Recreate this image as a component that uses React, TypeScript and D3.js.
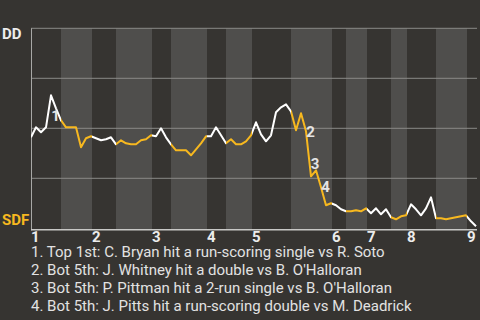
import React from "react";
import * as d3 from "d3";

// DD win probability (%) per plate appearance, index 0..89
const winProb: number[] = [
  45.5, 50.5, 48, 50.5, 66.5, 60, 54, 50.5, 50.5, 50.5,
  40.5, 45, 46, 45, 44, 44.5, 45.5, 42, 44, 42.5,
  42, 42, 44, 44.5, 46.5, 46, 50, 45.5, 42, 39,
  39, 39, 36.5, 39.5, 42.5, 46, 46, 50.5, 46.5, 42.5,
  44.5, 42, 42, 43.5, 46.5, 53, 47, 43.5, 46.5, 58,
  60.5, 62, 58.5, 49, 57.5, 48.5, 26, 29, 20.5, 11.5,
  12.5, 11.5, 9.5, 8.5, 8.5, 9, 8.5, 10, 7.5, 10,
  7, 9.5, 5.5, 4.5, 6, 6.5, 12, 9.5, 6.5, 10,
  15.5, 5, 5, 4.5, 5, 5.5, 6, 6.5, 3.5, 1,
];

// Start of each half inning, in plate-appearance units
const halfStarts: number[] = [0, 6, 12.2, 17, 24.2, 28, 35.2, 39, 44.2, 52, 60.2, 63, 67.2, 72, 75.2, 81, 87.2];
const gameEnd = 89.2;
const inningLabels: string[] = ["1", "2", "3", "4", "5", "6", "7", "8", "9"];

const eventIdx: number[] = [4, 55, 56, 58];
const eventTags: string[] = ["1", "2", "3", "4"];
const eventTexts: string[] = [
  "1. Top 1st: C. Bryan hit a run-scoring single vs R. Soto",
  "2. Bot 5th: J. Whitney hit a double vs B. O'Halloran",
  "3. Bot 5th: P. Pittman hit a 2-run single vs B. O'Halloran",
  "4. Bot 5th: J. Pitts hit a run-scoring double vs M. Deadrick",
];
const gridValues: number[] = [100, 75, 50, 25];
const awayTeam = "DD";
const homeTeam = "SDF";

const W = 480, H = 320;
const BG = "#363431";
const BAND = "#4f4e4c";
const GOLD = "#f7b81f";
const FONT = "Roboto, 'Noto Sans', sans-serif";

export default function App() {
  const x = d3.scaleLinear().domain([0, gameEnd]).range([31, 477]);
  const y = d3.scaleLinear().domain([0, 100]).range([228.3, 28.3]);
  const line = d3.line<number>().x((_, i) => x(i)).y((d) => y(d));
  const path = line(winProb) || "";

  const halves = halfStarts.map((s, i) => ({
    s,
    e: i + 1 < halfStarts.length ? halfStarts[i + 1] : gameEnd,
    top: i % 2 === 0,
  }));

  const labelDx = [4.5, 4.5, 4, 4.5];
  const labelDy = [26, 6, -7, 5];

  return (
    <svg width={W} height={H} style={{ position: "absolute", left: 0, top: 0, background: BG }}>
      <rect x={0} y={0} width={W} height={H} fill={BG} />
      <defs>
        <clipPath id="clipTop">
          {halves.filter((h) => h.top).map((h, i) => (
            <rect key={i} x={x(h.s)} y={0} width={x(h.e) - x(h.s)} height={H} />
          ))}
        </clipPath>
        <clipPath id="clipBot">
          {halves.filter((h) => !h.top).map((h, i) => (
            <rect key={i} x={x(h.s)} y={0} width={x(h.e) - x(h.s)} height={H} />
          ))}
        </clipPath>
      </defs>
      {halves.filter((h) => !h.top).map((h, i) => (
        <rect key={i} x={x(h.s)} y={y(100)} width={x(h.e) - x(h.s)} height={y(0) - y(100) + 1.5} fill={BAND} />
      ))}
      {gridValues.map((g) => (
        <line key={g} x1={x(0)} x2={x(gameEnd)} y1={y(g)} y2={y(g)} stroke="#8a8a88" strokeWidth={1} />
      ))}
      <line x1={x(0) + 0.5} x2={x(0) + 0.5} y1={y(100)} y2={y(0) + 2} stroke="#a8a8a6" strokeWidth={1} />
      <line x1={x(0)} x2={x(gameEnd)} y1={y(0) + 1.5} y2={y(0) + 1.5} stroke="#c8c8c6" strokeWidth={1.5} />
      <path d={path} fill="none" stroke="#ffffff" strokeWidth={2} clipPath="url(#clipTop)" strokeLinejoin="round" />
      <path d={path} fill="none" stroke={GOLD} strokeWidth={2} clipPath="url(#clipBot)" strokeLinejoin="round" />
      {eventIdx.map((idx, i) => (
        <text key={i} x={x(idx) + labelDx[i]} y={y(winProb[idx]) + labelDy[i]} textAnchor="middle"
          fontFamily={FONT} fontWeight="bold" fontSize={15} fill="#e4e4e4">{eventTags[i]}</text>
      ))}
      <text x={2} y={39.3} fontFamily={FONT} fontWeight="bold" fontSize={15} fill="#ececec">{awayTeam}</text>
      <text x={2} y={225} fontFamily={FONT} fontWeight="bold" fontSize={15} fill={GOLD}>{homeTeam}</text>
      {halves.filter((h) => h.top).map((h, i) => (
        <text key={i} x={x(h.s)} y={241.7} fontFamily={FONT} fontWeight="bold" fontSize={15} fill="#ececec">{inningLabels[i]}</text>
      ))}
      {eventTexts.map((t, i) => (
        <text key={i} x={31} y={257.3 + i * 17.8} fontFamily={FONT} fontSize={15} fill="#e2e2e2">{t}</text>
      ))}
    </svg>
  );
}
